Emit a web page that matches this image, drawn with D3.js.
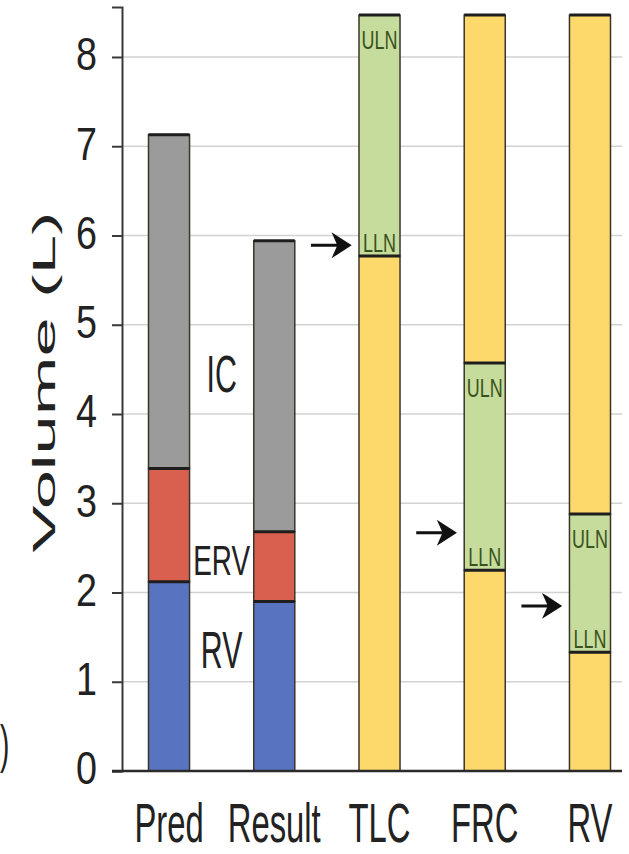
<!DOCTYPE html>
<html>
<head>
<meta charset="utf-8">
<script src="https://cdn.jsdelivr.net/npm/d3@7"></script>
<style>
  html, body { margin: 0; padding: 0; background: #fff; }
  svg { display: block; }
</style>
</head>
<body>
<svg id="chart" width="629" height="854"></svg>
<script>
// ---- data ----
var categories = ["Pred", "Result", "TLC", "FRC", "RV"];
var stackCategories = ["Pred", "Result"];
var rvValues = [2.12, 1.90];
var ervValues = [1.27, 0.78];
var icValues = [3.74, 3.26];

var refCategories = ["TLC", "FRC", "RV"];
var llnValues = [5.77, 2.25, 1.33];
var ulnValues = [8.47, 4.57, 2.88];
var barTop = 8.47;                      // reference bars run to top of chart
var measuredValues = [5.89, 2.67, 1.85]; // arrows (patient's values)

var segLabels = ["IC", "ERV", "RV"];
var segLabelValues = [4.25, 2.20, 1.15]; // baseline of each label
var yTicks = [0, 1, 2, 3, 4, 5, 6, 7, 8];

// ---- layout ----
var svg = d3.select("#chart");
var font = "'Liberation Sans', Arial, Helvetica, sans-serif";
var axisX = 122, plotRight = 622, baseY = 771;

var y = d3.scaleLinear().domain([0, 8.56]).range([baseY, 7]);
var x = d3.scaleBand().domain(categories)
  .range([116.4, 642.6]).paddingInner(0.61).paddingOuter(0.305);

var colors = { RV: "#5874c0", ERV: "#d9604e", IC: "#9b9b9b",
               low: "#fdd86a", normal: "#c6dc9c", high: "#fdd86a" };

// grid
svg.append("g").selectAll("line")
  .data(yTicks).enter().append("line")
  .attr("x1", axisX).attr("x2", plotRight)
  .attr("y1", function(d) { return y(d); })
  .attr("y2", function(d) { return y(d); })
  .attr("stroke", "#d2d2d2").attr("stroke-width", 1.5);

/*
* stacked bars (Pred, Result) and reference bars (TLC, FRC, RV)
*/
var stackRows = stackCategories.map(function(c, i) {
  return { cat: c, RV: rvValues[i], ERV: ervValues[i], IC: icValues[i] };
});
var stackSeries = d3.stack().keys(["RV", "ERV", "IC"])(stackRows);

var refRows = refCategories.map(function(c, i) {
  return { cat: c, low: llnValues[i], normal: ulnValues[i] - llnValues[i],
           high: barTop - ulnValues[i] };
});
var refSeries = d3.stack().keys(["low", "normal", "high"])(refRows);

function drawStack(series) {
  var g = svg.append("g");
  series.forEach(function(s) {
    g.selectAll(null).data(s).enter().append("rect")
      .attr("x", function(d) { return x(d.data.cat); })
      .attr("width", x.bandwidth())
      .attr("y", function(d) { return y(d[1]); })
      .attr("height", function(d) { return y(d[0]) - y(d[1]); })
      .attr("fill", colors[s.key])
      .attr("stroke", "#3a3528").attr("stroke-width", 1.5);
  });
  // thick boundary line at each segment top
  series.forEach(function(s) {
    g.selectAll(null).data(s.filter(function(d) { return d[1] > d[0]; }))
      .enter().append("line")
      .attr("x1", function(d) { return x(d.data.cat); })
      .attr("x2", function(d) { return x(d.data.cat) + x.bandwidth(); })
      .attr("y1", function(d) { return y(d[1]); })
      .attr("y2", function(d) { return y(d[1]); })
      .attr("stroke", "#1e1e1e").attr("stroke-width", 3);
  });
}
drawStack(stackSeries);
drawStack(refSeries);

// ULN / LLN tags
var tagColor = "#3a5220";
function tag(cat, val, txt, dyPx) {
  svg.append("text")
    .attr("transform", "translate(" + (x(cat) + x.bandwidth() / 2) + "," + (y(val) + dyPx) + ") scale(0.78,1.1)")
    .attr("text-anchor", "middle")
    .attr("font-family", font).attr("font-size", 23)
    .attr("fill", tagColor)
    .text(txt);
}
refCategories.forEach(function(c, i) {
  tag(c, ulnValues[i], "ULN", 34);
  tag(c, llnValues[i], "LLN", -4);
});

// arrows
svg.append("g").selectAll("path")
  .data(measuredValues).enter().append("path")
  .attr("d", function(d, i) {
    var xe = x(refCategories[i]) - 10, xs = xe - 38, yy = y(d);
    return "M" + xs + "," + yy + "L" + (xe - 8) + "," + yy +
      "M" + (xe - 14) + "," + (yy - 9) + "L" + xe + "," + yy + "L" + (xe - 14) + "," + (yy + 9) + "L" + (xe - 10) + "," + yy + "Z";
  })
  .attr("stroke", "#111").attr("stroke-width", 3).attr("fill", "#111")
  .attr("stroke-linejoin", "miter");

// segment labels between Pred and Result
var labelX = (x("Pred") + x.bandwidth() + x("Result")) / 2;
svg.append("g").selectAll("text")
  .data(segLabels).enter().append("text")
  .attr("transform", function(d, i) {
    var sy = d === "ERV" ? 1.25 : 1.42;
    return "translate(" + labelX + "," + y(segLabelValues[i]) + ") scale(0.82," + sy + ")";
  })
  .attr("text-anchor", "middle")
  .attr("font-family", font)
  .attr("font-size", function(d) { return d === "ERV" ? 34 : 37; })
  .attr("fill", "#222")
  .text(function(d) { return d; });

// y axis
var yAxis = svg.append("g")
  .attr("transform", "translate(" + axisX + ",0)")
  .call(d3.axisLeft(y).tickValues(yTicks).tickSize(10).tickFormat(d3.format("d")));
yAxis.select(".domain").attr("stroke", "#3a3a3a").attr("stroke-width", 2);
yAxis.selectAll(".tick line").attr("stroke", "#3a3a3a").attr("stroke-width", 2);
yAxis.selectAll(".tick text")
  .attr("x", -30.5).attr("dy", "0.28em")
  .attr("transform", "scale(0.82,1)")
  .attr("font-family", font).attr("font-size", 46).attr("fill", "#222");

// x axis / baseline
svg.append("line")
  .attr("x1", 112).attr("x2", plotRight)
  .attr("y1", baseY).attr("y2", baseY)
  .attr("stroke", "#2a2a2a").attr("stroke-width", 2.5);

var xAxis = svg.append("g")
  .attr("transform", "translate(0," + baseY + ")")
  .call(d3.axisBottom(x).tickSize(0));
xAxis.select(".domain").remove();
xAxis.selectAll(".tick text")
  .attr("y", 0).attr("dy", 0)
  .attr("transform", "translate(0,71) scale(0.82,1.38)")
  .attr("font-family", font).attr("font-size", 40).attr("fill", "#222");

// y label
svg.append("text")
  .attr("transform", "translate(55,382) rotate(-90)")
  .attr("text-anchor", "middle")
  .attr("font-family", font).attr("font-size", 32)
  .attr("textLength", 341).attr("lengthAdjust", "spacingAndGlyphs")
  .attr("fill", "#222")
  .text("Volume (L)");

// panel letter fragment at left edge
svg.append("text")
  .attr("transform", "translate(0,762) scale(0.7,1.3)")
  .attr("font-family", font).attr("font-size", 40).attr("fill", "#222")
  .text(")");
</script>
</body>
</html>
